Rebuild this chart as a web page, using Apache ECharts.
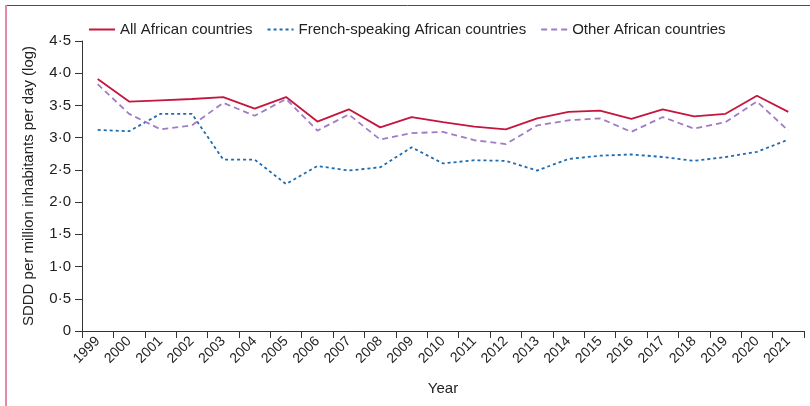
<!DOCTYPE html>
<html>
<head>
<meta charset="utf-8">
<style>
html,body{margin:0;padding:0;background:#fff;}
#chart{width:810px;height:406px;}
</style>
<script src="https://cdn.jsdelivr.net/npm/echarts@6/dist/echarts.min.js"></script>
</head>
<body>
<div id="chart"></div>
<script>
const years = ['1999','2000','2001','2002','2003','2004','2005','2006','2007','2008','2009','2010','2011','2012','2013','2014','2015','2016','2017','2018','2019','2020','2021'];
const allAfrican = [3.91,3.56,3.58,3.60,3.63,3.45,3.63,3.25,3.44,3.16,3.32,3.24,3.17,3.13,3.30,3.40,3.42,3.29,3.44,3.33,3.37,3.65,3.40];
const frenchSpeaking = [3.12,3.10,3.37,3.37,2.66,2.66,2.28,2.56,2.49,2.54,2.85,2.60,2.65,2.64,2.49,2.67,2.72,2.74,2.70,2.64,2.70,2.78,2.97];
const otherAfrican = [3.83,3.37,3.13,3.19,3.54,3.34,3.60,3.11,3.36,2.97,3.07,3.09,2.96,2.90,3.19,3.27,3.30,3.09,3.32,3.14,3.24,3.56,3.11];
const seriesNames = ['All African countries','French-speaking African countries','Other African countries'];
const yTicks = [0,0.5,1,1.5,2,2.5,3,3.5,4,4.5];

const FONT = '"Liberation Sans", Arial, sans-serif';
const chart = echarts.init(document.getElementById('chart'), null, {renderer:'canvas'});
chart.setOption({
  animation:false,
  backgroundColor:'#fff',
  textStyle:{fontFamily:FONT},
  graphic:[
    {type:'line', shape:{x1:5,y1:5.5,x2:810,y2:5.5}, style:{stroke:'#c0163f',lineWidth:1}},
    {type:'line', shape:{x1:6,y1:5,x2:6,y2:406}, style:{stroke:'#e38ba6',lineWidth:2}}
  ],
  legend:{
    left:83, top:17,
    itemWidth:26, itemHeight:14, itemGap:14,
    itemStyle:{opacity:0},
    textStyle:{fontFamily:FONT,fontSize:15,color:'#222'},
    data:seriesNames
  },
  grid:{left:82,right:6,top:41,bottom:75,containLabel:false},
  xAxis:{
    type:'category',
    data:years,
    boundaryGap:true,
    name:'Year',
    nameLocation:'middle',
    nameGap:50,
    nameTextStyle:{fontFamily:FONT,fontSize:15,color:'#222'},
    axisLine:{lineStyle:{color:'#333',width:1}},
    axisTick:{show:true,length:7,lineStyle:{color:'#333'},alignWithLabel:false},
    axisLabel:{rotate:45,interval:0,fontSize:14,color:'#222',margin:8,fontFamily:FONT}
  },
  yAxis:{
    type:'value',
    min:0,max:4.5,interval:0.5,
    name:'SDDD per million inhabitants per day (log)',
    nameLocation:'middle',
    nameGap:46,
    nameTextStyle:{fontFamily:FONT,fontSize:15,color:'#222'},
    axisLine:{show:true,lineStyle:{color:'#333',width:1}},
    axisTick:{show:true,length:7,lineStyle:{color:'#333'}},
    splitLine:{show:false},
    axisLabel:{fontSize:15,color:'#222',margin:11,fontFamily:FONT,
      formatter:function(v){ return v===0 ? '0' : v.toFixed(1).replace('.','\u00b7'); }}
  },
  series:[
    {name:seriesNames[0],type:'line',data:allAfrican,symbol:'none',
     lineStyle:{color:'#c4163f',width:1.8,type:'solid'},itemStyle:{color:'#c4163f'}},
    {name:seriesNames[1],type:'line',data:frenchSpeaking,symbol:'none',
     lineStyle:{color:'#1e6bb0',width:1.8,type:[3,3]},itemStyle:{color:'#1e6bb0'}},
    {name:seriesNames[2],type:'line',data:otherAfrican,symbol:'none',
     lineStyle:{color:'#a07cc4',width:1.8,type:[6,4]},itemStyle:{color:'#a07cc4'}}
  ]
});
</script>
</body>
</html>
